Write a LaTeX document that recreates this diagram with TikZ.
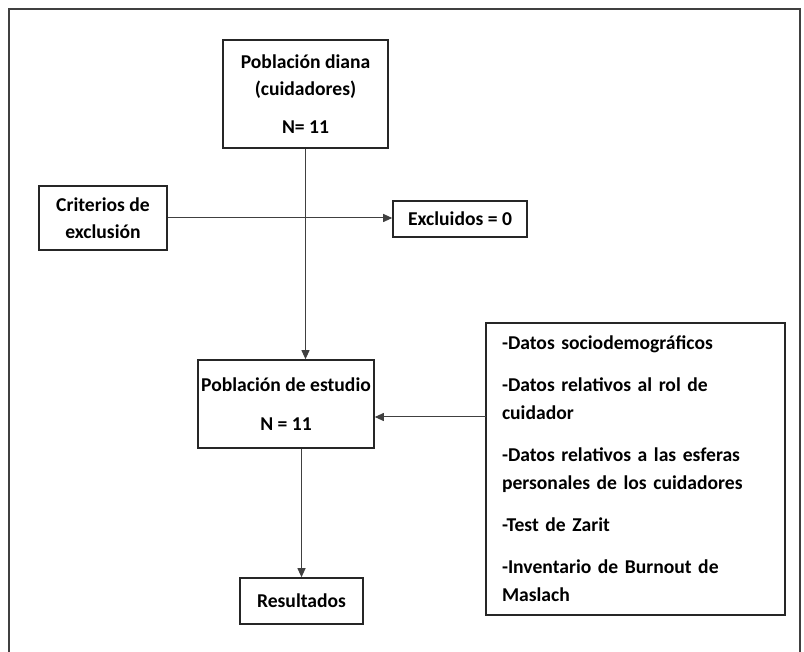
\documentclass[tikz,border=0pt]{standalone}
\usepackage{fontspec}
\setmainfont{Carlito}
\usepackage{tikz}
\usetikzlibrary{arrows.meta}
\tikzset{
    box/.style={
        rectangle,
        draw=black!85,
        line width=0.8pt,
        fill=white,
        inner sep=0pt,
        font=\fontsize{9.8}{13.5}\selectfont\bfseries
    },
    arrow/.style={
        -{Triangle[length=4.5pt,width=4pt]},
        draw=black!75,
        line width=0.5pt
    }
}

\begin{document}
\begin{tikzpicture}[x=0.5pt,y=-0.5pt]
    \useasboundingbox (0,0) rectangle (804,652);
    \draw[black!75, line width=1pt] (9,652) -- (9,9) -- (800,9) -- (800,652);

    \node[box, minimum width=82.5pt, minimum height=54pt, align=center] (diana) at (305.5,94)
        {Población diana\\(cuidadores)\\[5.5pt]N= 11};
    \node[box, minimum width=64pt, minimum height=32pt, align=center]   (crit)  at (103,218)
        {Criterios de\\exclusión};
    \node[box, minimum width=67pt, minimum height=18pt]                 (excl)  at (460,219)
        {Excluidos = 0};
    \node[box, minimum width=88pt, minimum height=44pt, align=center]   (estudio) at (286,404)
        {Población de estudio\\[6pt]N = 11};
    \node[box, minimum width=149.5pt, minimum height=146pt, align=left,
          text width=133.5pt, inner xsep=8pt,
          font=\fontsize{9.8}{14}\selectfont\bfseries]                  (datos) at (635.5,469)
        {-Datos sociodemográficos\\[7pt]
         -Datos relativos al rol de\\cuidador\\[7pt]
         -Datos relativos a las esferas\\personales de los cuidadores\\[7pt]
         -Test de Zarit\\[7pt]
         -Inventario de Burnout de\\Maslach};
    \node[box, minimum width=61.5pt, minimum height=23pt]               (result) at (301.5,601)
        {Resultados};

    \coordinate (dfrom) at (486,417);

    \draw[arrow] (diana.south) -- (diana.south |- estudio.north);
    \draw[arrow] (crit.east) -- (crit.east -| excl.west);
    \draw[arrow] (dfrom) -- (dfrom -| estudio.east);
    \draw[arrow] (result.north |- estudio.south) -- (result.north);
\end{tikzpicture}
\end{document}
